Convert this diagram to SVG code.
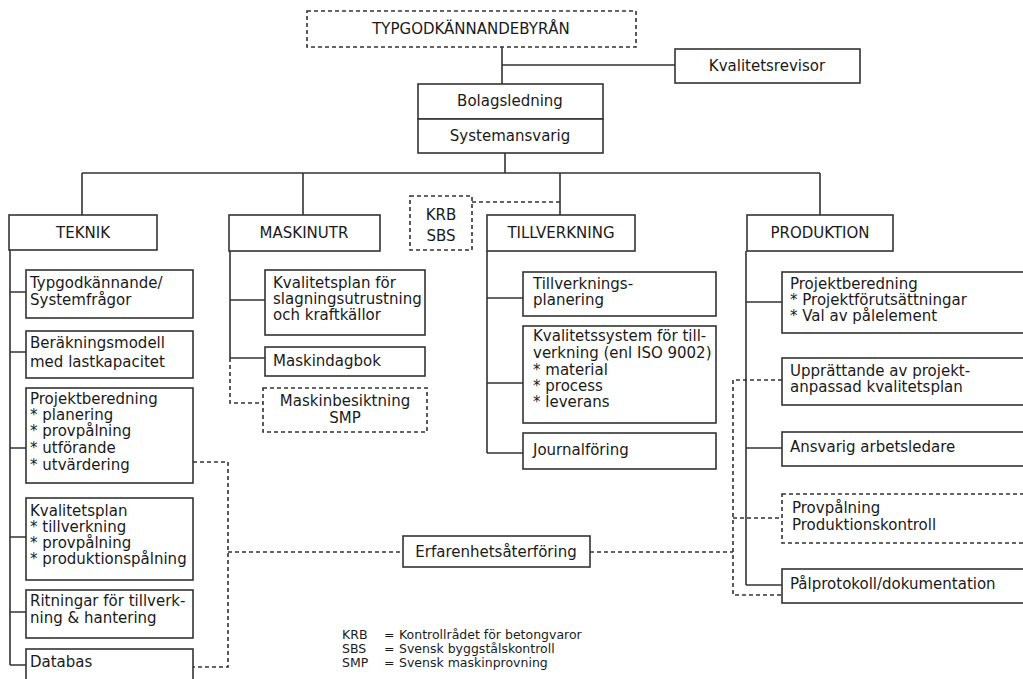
<svg xmlns="http://www.w3.org/2000/svg" width="1023" height="679" viewBox="0 0 1023 679">
<style>
.b{fill:#fff;stroke:#333;stroke-width:1.6}
.d{fill:#fff;stroke:#333;stroke-width:1.6;stroke-dasharray:4 3}
.l{fill:none;stroke:#333;stroke-width:1.6}
.dl{fill:none;stroke:#333;stroke-width:1.6;stroke-dasharray:4 3}
text{font-family:"DejaVu Sans","Liberation Sans",sans-serif;font-size:15px;fill:#1a1a1a}
.c{text-anchor:middle}
.lg{font-size:12.5px}
</style>
<rect width="1023" height="679" fill="#fff"/>
<g id="connectors">
<path class="l" d="M502 47V84M502 65H675M505 153V173M82 173H820M82 173V215M303 173V215M560 173V215M820 173V215"/>
<path class="dl" d="M472 202H560"/>
<path class="l" d="M10 250V665M10 292H26M10 352H26M10 448H26M10 537H26M10 612H26M10 665H26"/>
<path class="dl" d="M193 462H228V667H193M228 552H403M590 552H733"/>
<path class="l" d="M230 251V358M230 300H265M230 358H265"/>
<path class="dl" d="M230 358V403H263"/>
<path class="l" d="M487 251V453M487 298H523M487 383H523M487 453H523"/>
<path class="l" d="M746 251V585M746 302H782M746 448H782M746 585H782"/>
<path class="dl" d="M782 380H733V595H782M733 518H782"/>
</g>
<g id="typgod"><rect class="d" x="307" y="11" width="329" height="36"/><text class="c" x="471" y="34">TYPGODKÄNNANDEBYRÅN</text></g>
<g id="kvalitetsrevisor"><rect class="b" x="675" y="49" width="185" height="34"/><text class="c" x="767" y="71">Kvalitetsrevisor</text></g>
<g id="bolagsledning"><rect class="b" x="418" y="84" width="185" height="35"/><text class="c" x="510" y="106">Bolagsledning</text></g>
<g id="systemansvarig"><rect class="b" x="418" y="119" width="185" height="34"/><text class="c" x="510" y="141">Systemansvarig</text></g>

<g id="teknik"><rect class="b" x="9" y="215" width="148" height="35"/><text class="c" x="83" y="238">TEKNIK</text></g>
<g id="maskinutr"><rect class="b" x="229" y="215" width="151" height="36"/><text class="c" x="304" y="238">MASKINUTR</text></g>
<g id="krb"><rect class="d" x="410" y="196" width="62" height="54"/><text class="c" x="441" y="220">KRB</text><text class="c" x="441" y="241">SBS</text></g>
<g id="tillverkning"><rect class="b" x="487" y="215" width="148" height="36"/><text class="c" x="561" y="238">TILLVERKNING</text></g>
<g id="produktion"><rect class="b" x="747" y="215" width="146" height="36"/><text class="c" x="820" y="238">PRODUKTION</text></g>

<g id="t1"><rect class="b" x="26" y="270" width="167" height="48"/><text x="30" y="288">Typgodkännande/</text><text x="30" y="305">Systemfrågor</text></g>
<g id="t2"><rect class="b" x="26" y="331" width="167" height="47"/><text x="30" y="348">Beräkningsmodell</text><text x="30" y="367">med lastkapacitet</text></g>
<g id="t3"><rect class="b" x="26" y="388" width="167" height="95"/><text x="30" y="404">Projektberedning</text><text x="30" y="420">* planering</text><text x="30" y="436">* provpålning</text><text x="30" y="453">* utförande</text><text x="30" y="470">* utvärdering</text></g>
<g id="t4"><rect class="b" x="26" y="498" width="167" height="82"/><text x="30" y="516">Kvalitetsplan</text><text x="30" y="532">* tillverkning</text><text x="30" y="548">* provpålning</text><text x="30" y="564">* produktionspålning</text></g>
<g id="t5"><rect class="b" x="26" y="590" width="167" height="48"/><text x="30" y="606">Ritningar för tillverk-</text><text x="30" y="623">ning &amp; hantering</text></g>
<g id="t6"><rect class="b" x="26" y="649" width="167" height="45"/><text x="30" y="667">Databas</text></g>

<g id="m1"><rect class="b" x="265" y="270" width="160" height="65"/><text x="273" y="288">Kvalitetsplan för</text><text x="273" y="304">slagningsutrustning</text><text x="273" y="320">och kraftkällor</text></g>
<g id="m2"><rect class="b" x="265" y="347" width="160" height="29"/><text x="273" y="366">Maskindagbok</text></g>
<g id="m3"><rect class="d" x="263" y="388" width="164" height="44"/><text class="c" x="345" y="406">Maskinbesiktning</text><text class="c" x="345" y="423">SMP</text></g>

<g id="v1"><rect class="b" x="523" y="272" width="193" height="44"/><text x="533" y="289">Tillverknings-</text><text x="533" y="305">planering</text></g>
<g id="v2"><rect class="b" x="523" y="326" width="193" height="97"/><text x="533" y="341">Kvalitetssystem för till-</text><text x="533" y="358">verkning (enl ISO 9002)</text><text x="533" y="375">* material</text><text x="533" y="391">* process</text><text x="533" y="407">* leverans</text></g>
<g id="v3"><rect class="b" x="523" y="433" width="193" height="36"/><text x="533" y="455">Journalföring</text></g>

<g id="p1"><rect class="b" x="782" y="272" width="250" height="61"/><text x="790" y="289">Projektberedning</text><text x="790" y="305">* Projektförutsättningar</text><text x="790" y="321">* Val av pålelement</text></g>
<g id="p2"><rect class="b" x="782" y="358" width="250" height="47"/><text x="790" y="376">Upprättande av projekt-</text><text x="790" y="392">anpassad kvalitetsplan</text></g>
<g id="p3"><rect class="b" x="782" y="432" width="250" height="34"/><text x="790" y="452">Ansvarig arbetsledare</text></g>
<g id="p4"><rect class="d" x="782" y="494" width="250" height="49"/><text x="792" y="513">Provpålning</text><text x="792" y="530">Produktionskontroll</text></g>
<g id="p5"><rect class="b" x="782" y="569" width="250" height="34"/><text x="790" y="589">Pålprotokoll/dokumentation</text></g>

<g id="erfarenhet"><rect class="b" x="403" y="536" width="187" height="31"/><text class="c" x="496" y="557">Erfarenhetsåterföring</text></g>

<g id="legend">
<text class="lg" x="342" y="639">KRB</text><text class="lg" x="384" y="639">=</text><text class="lg" x="399" y="639">Kontrollrådet för betongvaror</text>
<text class="lg" x="342" y="653">SBS</text><text class="lg" x="384" y="653">=</text><text class="lg" x="399" y="653">Svensk byggstålskontroll</text>
<text class="lg" x="342" y="667">SMP</text><text class="lg" x="384" y="667">=</text><text class="lg" x="399" y="667">Svensk maskinprovning</text>
</g>
</svg>
